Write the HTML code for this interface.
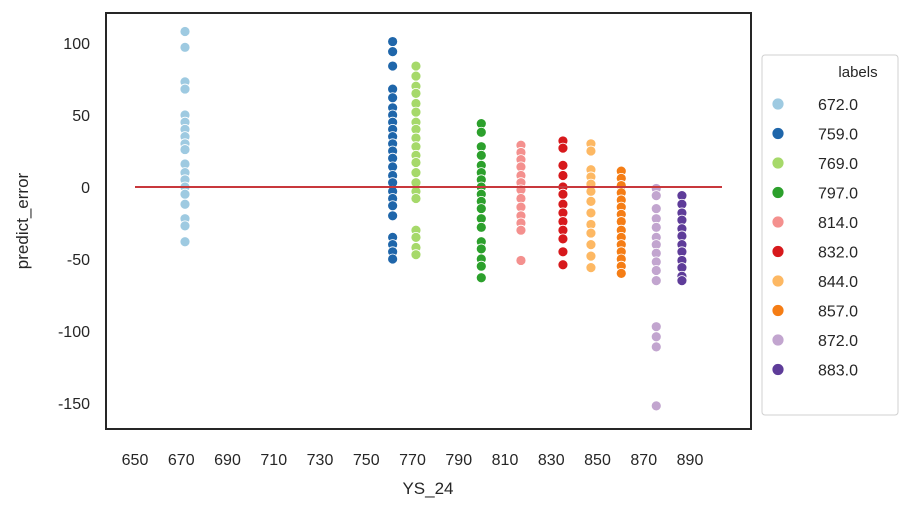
<!DOCTYPE html>
<html><head><meta charset="utf-8"><style>
html,body{margin:0;padding:0;background:#fff;}
svg text{font-family:"Liberation Sans",sans-serif;fill:#262626;}
</style></head><body>
<svg id="s" width="907" height="507" viewBox="0 0 907 507" xmlns="http://www.w3.org/2000/svg">
<rect x="0" y="0" width="907" height="507" fill="#fff"/>
<g id="pts"></g>
<line x1="135" y1="187" x2="722" y2="187" stroke="#c8383c" stroke-width="2"/>
<rect x="106" y="13" width="645" height="416" fill="none" stroke="#262626" stroke-width="2"/>
<g id="ax" font-size="16"></g>
<text x="428" y="494" font-size="17" text-anchor="middle">YS_24</text>
<text transform="translate(28,221) rotate(-90)" font-size="17" text-anchor="middle">predict_error</text>
<rect x="762" y="55" width="136" height="360" rx="3" fill="#fff" stroke="#d0d0d0"/>
<text x="858" y="77" font-size="15" text-anchor="middle">labels</text>
<g id="leg" font-size="16"></g>
</svg>
<script>
var NS="http://www.w3.org/2000/svg";
function el(p,t,a,tx){var e=document.createElementNS(NS,t);for(var k in a)e.setAttribute(k,a[k]);if(tx!==undefined)e.textContent=tx;p.appendChild(e);return e;}
var X=function(v){return 185+(v-670)*2.333;};
var Y=function(v){return 187-v*1.44;};
var groups=[
["672.0",670,"#9ecae1",[108,97,73,68,50,45,40,35,30,26,16,10,5,0,-5,-12,-22,-27,-38]],
["759.0",759,"#1f66aa",[101,94,84,68,62,55,50,45,40,35,30,25,20,14,8,3,-3,-8,-13,-20,-35,-40,-45,-50]],
["769.0",769,"#a6d96a",[84,77,70,65,58,52,45,40,34,28,22,17,10,3,-3,-8,-30,-35,-42,-47]],
["797.0",797,"#2ca02c",[44,38,28,22,15,10,5,0,-5,-10,-15,-22,-28,-38,-43,-50,-55,-63]],
["814.0",814,"#f4908e",[29,24,19,14,8,3,-2,-8,-14,-20,-25,-30,-51]],
["832.0",832,"#d7191c",[32,27,15,8,0,-5,-12,-18,-24,-30,-36,-45,-54]],
["844.0",844,"#fdb863",[30,25,12,7,2,-3,-10,-18,-26,-32,-40,-48,-56]],
["857.0",857,"#f57d15",[11,6,1,-4,-9,-14,-19,-24,-30,-35,-40,-45,-50,-55,-60]],
["872.0",872,"#c2a5cf",[-1,-6,-15,-22,-28,-35,-40,-46,-52,-58,-65,-97,-104,-111,-152]],
["883.0",883,"#5e3c99",[-6,-12,-18,-23,-29,-34,-40,-45,-51,-56,-62,-65]]];
var P=document.getElementById("pts"),L=document.getElementById("leg"),A=document.getElementById("ax");
groups.forEach(function(g,i){
 g[3].forEach(function(v){el(P,"circle",{cx:X(g[1]),cy:Y(v),r:5,fill:g[2],stroke:"#fff","stroke-width":0.8});});
 var y=104+i*29.5;
 el(L,"circle",{cx:778,cy:y,r:6,fill:g[2],stroke:"#fff","stroke-width":0.8});
 el(L,"text",{x:838,y:y+6,"text-anchor":"middle"},g[0]);
});
for(var v=650;v<=890;v+=20){el(A,"text",{x:135+(v-650)*2.3125,y:465,"text-anchor":"middle"},v);}
[100,50,0,-50,-100,-150].forEach(function(v){el(A,"text",{x:90,y:Y(v)+6,"text-anchor":"end"},v);});
</script>
</body></html>
